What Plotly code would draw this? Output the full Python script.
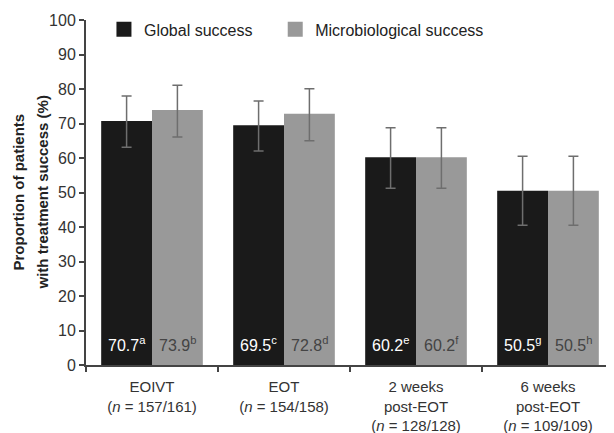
import plotly.graph_objects as go

categories = ["EOIVT<br>(<i>n</i> = 157/161)", "EOT<br>(<i>n</i> = 154/158)",
              "2 weeks<br>post-EOT<br>(<i>n</i> = 128/128)", "6 weeks<br>post-EOT<br>(<i>n</i> = 109/109)"]
global_vals = [70.7, 69.5, 60.2, 50.5]
global_err_plus = [7.3, 7.0, 8.6, 10.0]
global_err_minus = [7.6, 7.5, 9.0, 10.0]
global_sup = ["a", "c", "e", "g"]
micro_vals = [73.9, 72.8, 60.2, 50.5]
micro_err_plus = [7.2, 7.3, 8.6, 10.0]
micro_err_minus = [7.8, 7.8, 9.0, 10.0]
micro_sup = ["b", "d", "f", "h"]
yticks = [0, 10, 20, 30, 40, 50, 60, 70, 80, 90, 100]

FONT = "Liberation Sans, Arial, sans-serif"
BLACK = "#1a1a1a"
GREY = "#999999"
BARGAP = 0.23
W, H = 606, 425
ML, MR, MT, MB = 78, 0, 12, 68

fig = go.Figure()
fig.add_trace(go.Bar(
    x=categories, y=global_vals, name="Global success", showlegend=False,
    marker=dict(color=BLACK, line=dict(width=0)),
    error_y=dict(type="data", array=global_err_plus, arrayminus=global_err_minus,
                 color="#6e6e6e", thickness=1.5, width=5),
))
fig.add_trace(go.Bar(
    x=categories, y=micro_vals, name="Microbiological success", showlegend=False,
    marker=dict(color=GREY, line=dict(width=0)),
    error_y=dict(type="data", array=micro_err_plus, arrayminus=micro_err_minus,
                 color="#6e6e6e", thickness=1.5, width=5),
))
# legend entries with larger square symbols
for name, col in [("Global success\u00a0\u00a0\u00a0\u00a0", BLACK), ("Microbiological success", GREY)]:
    fig.add_trace(go.Scatter(
        x=[None], y=[None], mode="markers", name=name,
        marker=dict(symbol="square", size=15, color=col), showlegend=True,
    ))

# value labels at bottom of bars
plot_w = W - ML - MR
cat_w = plot_w / len(categories)
bar_w = cat_w * (1 - BARGAP) / 2
for cat, v, s in zip(categories, global_vals, global_sup):
    fig.add_annotation(x=cat, y=0, xref="x", yref="y", xshift=-bar_w / 2, yshift=9,
                       yanchor="bottom", showarrow=False,
                       text=f"{v}<sup>{s}</sup>",
                       font=dict(color="white", size=16, family=FONT))
for cat, v, s in zip(categories, micro_vals, micro_sup):
    fig.add_annotation(x=cat, y=0, xref="x", yref="y", xshift=bar_w / 2, yshift=9,
                       yanchor="bottom", showarrow=False,
                       text=f"{v}<sup>{s}</sup>",
                       font=dict(color="#444444", size=16, family=FONT))

# y axis title as two lines
fig.add_annotation(x=0, xref="paper", y=0.5, yref="paper", xshift=-68, xanchor="center",
                   yanchor="middle", showarrow=False,
                   textangle=-90, text="<b>Proportion of patients</b>",
                   font=dict(size=15, color="#222222", family=FONT))
fig.add_annotation(x=0, xref="paper", y=0.5, yref="paper", xshift=-44, xanchor="center",
                   yanchor="middle", showarrow=False,
                   textangle=-90, text="<b>with treatment success (%)</b>",
                   font=dict(size=15, color="#222222", family=FONT))

fig.update_layout(
    width=W, height=H,
    margin=dict(l=ML, r=MR, t=MT, b=MB),
    paper_bgcolor="white", plot_bgcolor="white",
    barmode="group", bargap=BARGAP, bargroupgap=0,
    font=dict(family=FONT, color="#333333", size=13),
    showlegend=True,
    legend=dict(orientation="h", x=0.034, y=1.022, xanchor="left", yanchor="top",
                font=dict(size=16, color="#222222"), bgcolor="rgba(0,0,0,0)",
                itemwidth=30, traceorder="normal"),
)
fig.update_xaxes(
    range=[-0.5, 3.5], showline=True, linecolor="#444444", linewidth=2,
    ticks="outside", tickson="boundaries", ticklen=5, tickwidth=2, tickcolor="#444444",
    tickfont=dict(size=15, color="#333333"), ticklabelstandoff=7,
    showgrid=False, zeroline=False,
)
fig.update_yaxes(
    range=[0, 100], tickvals=yticks, showline=True, linecolor="#444444", linewidth=2,
    ticks="outside", ticklen=5, tickwidth=2, tickcolor="#444444",
    tickfont=dict(size=16, color="#333333"), showgrid=False, zeroline=False,
)

fig.write_html("out.html")
